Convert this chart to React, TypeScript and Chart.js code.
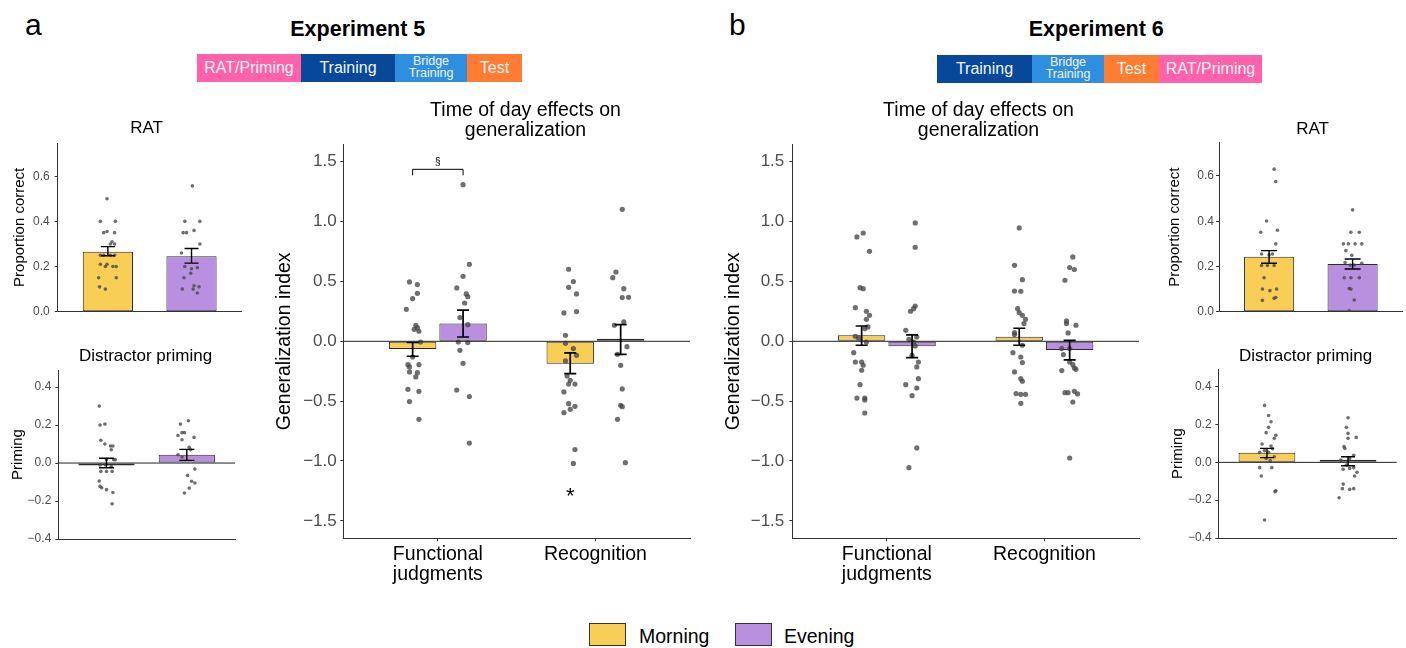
import { useEffect, useRef } from "react";
import { Chart, registerables } from "chart.js";

Chart.register(...registerables);

const FONT = '"Liberation Sans", Arial, Helvetica, sans-serif';
Chart.defaults.font.family = FONT;

const MORNING = "#F8CE56";
const EVENING = "#B98FE0";
const DOT = "rgba(70,70,70,0.78)";
const DODGE = 0.16; // half distance between the two bars of a test

// ---------- shared labels / ticks ----------
const conditions = ["Morning", "Evening"];
const testCats: (string | string[])[] = [["Functional", "judgments"], "Recognition"];
const ratTicks = [0, 0.2, 0.4, 0.6];
const primeTicks = [-0.4, -0.2, 0, 0.2, 0.4];
const genTicks = [-1.5, -1, -0.5, 0, 0.5, 1, 1.5];

// ---------- Experiment 5 ----------
// means / error bar ends, [Morning, Evening]
const rat5Mean = [0.266, 0.245];
const rat5Lo = [0.248, 0.215];
const rat5Hi = [0.288, 0.28];
// participants: [jitter, value]
const rat5MorningPts: [number, number][] = [
  [-0.01, 0.5], [-0.09, 0.4], [0.09, 0.4], [-0.05, 0.35], [-0.01, 0.355], [0.08, 0.35], [0.05, 0.31],
  [0.03, 0.3], [0.08, 0.3], [-0.09, 0.25], [-0.05, 0.25], [0.03, 0.25], [0.08, 0.25], [-0.09, 0.21],
  [-0.01, 0.21], [0.06, 0.2], [0.1, 0.2], [-0.03, 0.2], [-0.11, 0.15], [0.1, 0.15], [-0.1, 0.11], [-0.03, 0.1],
];
const rat5EveningPts: [number, number][] = [
  [0.01, 0.557], [-0.08, 0.4], [0.1, 0.4], [0.03, 0.36], [-0.1, 0.35], [-0.06, 0.35], [0.1, 0.3],
  [-0.12, 0.26], [-0.08, 0.2], [0.0, 0.19], [0.07, 0.195], [-0.01, 0.17], [-0.09, 0.15], [0.03, 0.115],
  [0.09, 0.11], [0.02, 0.1], [-0.11, 0.1], [0.07, 0.083],
];

const prime5Mean = [-0.005, 0.044];
const prime5Lo = [-0.025, 0.014];
const prime5Hi = [0.025, 0.072];
const prime5MorningPts: [number, number][] = [
  [-0.09, 0.3], [-0.08, 0.2], [-0.02, 0.205], [-0.07, 0.12], [-0.02, 0.1], [0.05, 0.09], [0.08, 0.09],
  [0.06, 0.07], [0.0, 0.018], [0.09, 0.018], [0.11, 0.018], [-0.08, -0.01], [-0.01, -0.01], [0.06, -0.018],
  [-0.07, -0.044], [0.0, -0.044], [0.07, -0.044], [-0.09, -0.095], [-0.08, -0.123], [-0.06, -0.13],
  [0.0, -0.14], [0.08, -0.155], [0.07, -0.215],
];
const prime5EveningPts: [number, number][] = [
  [0.02, 0.223], [-0.08, 0.205], [-0.06, 0.16], [-0.03, 0.16], [-0.11, 0.145], [0.09, 0.135], [-0.06, 0.123],
  [0.03, 0.083], [0.05, 0.07], [-0.11, 0.044], [-0.06, 0.032], [0.1, -0.032], [0.01, -0.065], [0.06, -0.096],
  [0.1, -0.105], [0.03, -0.132], [-0.03, -0.158],
];

// generalization index, [Functional judgments, Recognition]
const gen5MorningMean = [-0.065, -0.187];
const gen5MorningLo = [-0.125, -0.27];
const gen5MorningHi = [-0.01, -0.097];
const gen5EveningMean = [0.148, 0.014];
const gen5EveningLo = [0.036, -0.109];
const gen5EveningHi = [0.26, 0.14];
const gen5FjMorning: [number, number][] = [
  [-0.02, 0.496], [0.03, 0.474], [0.03, 0.401], [0.0, 0.357], [-0.04, 0.267], [0.02, 0.134], [0.03, 0.114],
  [0.01, 0.1], [0.04, 0.084], [0.05, -0.006], [0.0, -0.131], [-0.03, -0.195], [-0.02, -0.214], [0.04, -0.195],
  [-0.02, -0.256], [0.03, -0.262], [0.02, -0.298], [-0.03, -0.401], [0.04, -0.418], [-0.02, -0.504], [0.04, -0.652],
];
const gen5FjEvening: [number, number][] = [
  [0.0, 1.309], [0.04, 0.643], [0.0, 0.543], [-0.04, 0.446], [0.02, 0.396], [0.03, 0.373], [0.01, 0.32],
  [-0.02, 0.198], [0.03, 0.139], [-0.03, -0.006], [0.03, -0.011], [-0.02, -0.075], [0.0, -0.184],
  [-0.04, -0.407], [0.04, -0.462], [0.04, -0.85],
];
const gen5RecMorning: [number, number][] = [
  [-0.01, 0.602], [0.02, 0.499], [-0.01, 0.451], [0.04, 0.396], [-0.04, 0.237], [0.04, 0.248], [-0.03, 0.05],
  [-0.03, -0.017], [0.02, -0.061], [0.04, -0.117], [-0.03, -0.164], [-0.02, -0.29], [0.0, -0.326],
  [0.03, -0.357], [-0.01, -0.357], [-0.04, -0.423], [-0.01, -0.521], [0.03, -0.543], [0.0, -0.568],
  [-0.04, -0.596], [0.03, -0.905], [0.02, -1.02],
];
const gen5RecEvening: [number, number][] = [
  [0.01, 1.103], [-0.03, 0.579], [-0.05, 0.532], [0.02, 0.44], [0.01, 0.365], [0.05, 0.368], [-0.04, 0.134],
  [0.02, 0.162], [0.04, -0.045], [-0.02, -0.109], [0.0, -0.201], [0.01, -0.398], [0.0, -0.535], [0.01, -0.546],
  [-0.02, -0.652], [0.03, -1.014],
];
// significance marks on the Experiment 5 panel
const sigBracket = { from: 1 - DODGE, to: 1 + DODGE, y: 1.437, tip: 1.387 };
const sigNotes = [
  { x: 1, y: 1.5, text: "§", size: 10 },
  { x: 2 - DODGE, y: -1.3, text: "*", size: 22 },
];

// ---------- Experiment 6 ----------
const gen6MorningMean = [0.05, 0.039];
const gen6MorningLo = [-0.033, -0.033];
const gen6MorningHi = [0.128, 0.109];
const gen6EveningMean = [-0.042, -0.072];
const gen6EveningLo = [-0.136, -0.156];
const gen6EveningHi = [0.053, 0.008];
const gen6FjMorning: [number, number][] = [
  [0.01, 0.905], [-0.03, 0.872], [0.05, 0.752], [-0.01, 0.448], [0.01, 0.44], [-0.04, 0.281], [0.03, 0.251],
  [0.05, 0.217], [0.03, 0.184], [0.04, 0.12], [0.02, 0.106], [-0.04, 0.042], [-0.02, 0.028], [0.03, -0.006],
  [-0.05, -0.095], [-0.04, -0.173], [0.0, -0.173], [0.01, -0.2], [0.0, -0.242], [-0.01, -0.362],
  [-0.03, -0.474], [0.02, -0.474], [0.02, -0.49], [0.02, -0.599],
];
const gen6FjEvening: [number, number][] = [
  [0.02, 0.989], [0.02, 0.786], [0.02, 0.295], [0.01, 0.273], [-0.01, 0.251], [-0.04, 0.092], [0.03, 0.036],
  [-0.02, 0.017], [0.01, -0.006], [0.02, -0.039], [0.0, -0.117], [0.04, -0.173], [0.03, -0.214],
  [0.04, -0.312], [-0.04, -0.362], [0.03, -0.39], [0.0, -0.454], [0.03, -0.891], [-0.02, -1.056],
];
const gen6RecMorning: [number, number][] = [
  [0.0, 0.947], [-0.03, 0.635], [0.02, 0.515], [-0.03, 0.42], [0.01, 0.418], [-0.01, 0.273], [0.0, 0.24],
  [0.02, 0.217], [0.04, 0.184], [0.03, 0.148], [-0.03, 0.072], [-0.03, 0.056], [0.02, -0.033], [-0.04, -0.095],
  [0.01, -0.131], [0.02, -0.178], [-0.03, -0.256], [0.01, -0.312], [0.02, -0.334], [-0.02, -0.437],
  [0.01, -0.443], [0.04, -0.443], [0.01, -0.518],
];
const gen6RecEvening: [number, number][] = [
  [0.02, 0.705], [0.0, 0.616], [0.03, 0.6], [-0.03, 0.51], [-0.02, 0.17], [-0.02, 0.148], [0.04, 0.134],
  [-0.01, 0.07], [-0.05, -0.061], [0.0, -0.061], [-0.04, -0.111], [0.0, -0.173], [0.02, -0.195],
  [0.03, -0.223], [0.04, -0.234], [-0.05, -0.245], [-0.03, -0.429], [-0.01, -0.429], [0.03, -0.418],
  [0.05, -0.44], [0.02, -0.507], [0.0, -0.975],
];

const rat6Mean = [0.243, 0.211];
const rat6Lo = [0.214, 0.189];
const rat6Hi = [0.27, 0.233];
const rat6MorningPts: [number, number][] = [
  [0.06, 0.63], [0.08, 0.575], [-0.03, 0.401], [-0.1, 0.351], [0.1, 0.36], [0.08, 0.3], [-0.09, 0.255],
  [0.0, 0.251], [0.04, 0.255], [-0.09, 0.204], [-0.02, 0.204], [0.06, 0.204], [-0.06, 0.15], [-0.08, 0.1],
  [0.01, 0.093], [0.09, 0.1], [0.08, 0.063], [0.06, 0.059], [-0.08, 0.05],
];
const rat6EveningPts: [number, number][] = [
  [0.0, 0.45], [-0.02, 0.351], [0.08, 0.351], [-0.11, 0.3], [-0.05, 0.3], [0.03, 0.3], [0.11, 0.3],
  [-0.08, 0.27], [-0.01, 0.249], [-0.09, 0.217], [-0.03, 0.206], [0.02, 0.206], [0.11, 0.214],
  [-0.1, 0.15], [-0.02, 0.15], [0.08, 0.15], [-0.04, 0.102], [-0.02, 0.1], [0.02, 0.052], [-0.04, 0.004],
];

const prime6Mean = [0.051, 0.007];
const prime6Lo = [0.025, -0.018];
const prime6Hi = [0.074, 0.03];
const prime6MorningPts: [number, number][] = [
  [-0.03, 0.301], [0.02, 0.248], [0.05, 0.215], [0.02, 0.185], [-0.01, 0.157], [0.11, 0.143], [0.09, 0.127],
  [-0.06, 0.097], [0.05, 0.086], [0.07, 0.072], [-0.09, 0.053], [-0.03, 0.062], [0.02, 0.053], [-0.01, 0.021],
  [0.09, 0.03], [0.04, 0.009], [-0.09, -0.028], [0.06, -0.028], [-0.07, -0.072], [0.1, -0.155],
  [0.11, -0.15], [-0.03, -0.305],
];
const prime6EveningPts: [number, number][] = [
  [0.0, 0.236], [-0.02, 0.185], [0.0, 0.153], [0.0, 0.127], [0.1, 0.132], [-0.05, 0.083], [-0.04, 0.074],
  [0.07, 0.037], [0.02, 0.021], [-0.09, 0.012], [-0.02, -0.014], [0.02, -0.032], [0.07, -0.028],
  [-0.06, -0.037], [0.11, -0.053], [0.08, -0.072], [-0.06, -0.115], [-0.07, -0.139], [0.02, -0.143],
  [0.07, -0.139], [-0.11, -0.187],
];

// ---------- panel component ----------
type Group = {
  label: string;
  color: string;
  x: number[];
  mean: number[];
  lo: number[];
  hi: number[];
  pts: [number, number][][];
};

type PanelProps = {
  box: [number, number, number, number]; // canvas left, top, right, bottom (page px)
  plot: [number, number, number, number]; // plot area left, top, right, bottom (page px)
  title: string[];
  titleSize: number;
  titleLH: number;
  titleY: number;
  yTitle: string;
  yTitleSize: number;
  yTitleX: number;
  yMin: number;
  yMax: number;
  yTicks: number[];
  tickSize: number;
  tickGap: number;
  cats?: (string | string[])[];
  catSize?: number;
  groups: Group[];
  barRatio: number;
  dotR: number;
  capPx: number;
  errW: number;
  zeroLine: boolean;
  bracket?: { from: number; to: number; y: number; tip: number };
  notes?: { x: number; y: number; text: string; size: number }[];
};

const fmt = (v: number) => (v < -1e-9 ? "\u2212" : "") + Math.abs(v).toFixed(1);

function Panel(p: PanelProps) {
  const ref = useRef<HTMLCanvasElement>(null);
  const [cl, ct, cr, cb] = p.box;
  const [L, T, R, B] = p.plot;
  const W = cr - cl;
  const H = cb - ct;

  useEffect(() => {
    if (!ref.current) return;
    const tlh = p.titleSize * p.titleLH;
    const tPadTop = p.titleY - ct - tlh / 2;
    const tPadBottom = T - ct - tPadTop - tlh * p.title.length;
    const ylh = p.yTitleSize * 1.2;

    const datasets: any[] = [];
    p.groups.forEach((g) =>
      datasets.push({
        type: "bar",
        label: g.label,
        data: g.x.map((x, i) => ({ x, y: g.mean[i] })),
        backgroundColor: g.color,
        borderColor: "#2b2b2b",
        borderWidth: 1,
        borderSkipped: false,
        minBarLength: 2.5,
        grouped: false,
        categoryPercentage: 1,
        barPercentage: p.barRatio,
        order: 3,
      })
    );
    p.groups.forEach((g) =>
      datasets.push({
        type: "scatter",
        label: g.label + " participants",
        data: g.pts.flatMap((list, i) => list.map(([j, v]) => ({ x: g.x[i] + j, y: v }))),
        backgroundColor: DOT,
        pointRadius: p.dotR,
        pointBorderWidth: 0,
        order: 2,
      })
    );

    const marks = {
      id: "marks",
      afterDatasetsDraw(chart: any) {
        const { ctx, chartArea: a } = chart;
        const xs = chart.scales.x;
        const ys = chart.scales.y;
        ctx.save();
        if (p.zeroLine) {
          const y0 = ys.getPixelForValue(0);
          ctx.strokeStyle = "#222";
          ctx.lineWidth = 1;
          ctx.beginPath();
          ctx.moveTo(a.left, y0);
          ctx.lineTo(a.right, y0);
          ctx.stroke();
        }
        ctx.strokeStyle = "#000";
        ctx.lineWidth = p.errW;
        const c = p.capPx / 2;
        p.groups.forEach((g) =>
          g.x.forEach((xv, i) => {
            const px = xs.getPixelForValue(xv);
            const y1 = ys.getPixelForValue(g.lo[i]);
            const y2 = ys.getPixelForValue(g.hi[i]);
            ctx.beginPath();
            ctx.moveTo(px, y1);
            ctx.lineTo(px, y2);
            ctx.moveTo(px - c, y1);
            ctx.lineTo(px + c, y1);
            ctx.moveTo(px - c, y2);
            ctx.lineTo(px + c, y2);
            ctx.stroke();
          })
        );
        if (p.bracket) {
          const b = p.bracket;
          const x1 = xs.getPixelForValue(b.from);
          const x2 = xs.getPixelForValue(b.to);
          const yb = ys.getPixelForValue(b.y);
          const yt = ys.getPixelForValue(b.tip);
          ctx.lineWidth = 1;
          ctx.beginPath();
          ctx.moveTo(x1, yt);
          ctx.lineTo(x1, yb);
          ctx.lineTo(x2, yb);
          ctx.lineTo(x2, yt);
          ctx.stroke();
        }
        (p.notes || []).forEach((n) => {
          ctx.font = `${n.size}px ${FONT}`;
          ctx.fillStyle = "#000";
          ctx.textAlign = "center";
          ctx.textBaseline = "middle";
          ctx.fillText(n.text, xs.getPixelForValue(n.x), ys.getPixelForValue(n.y));
        });
        ctx.restore();
      },
    };

    const chart = new Chart(ref.current, {
      type: "bar",
      data: { datasets },
      options: {
        responsive: false,
        animation: false,
        events: [],
        layout: { padding: 0 },
        plugins: {
          legend: { display: false },
          tooltip: { enabled: false },
          title: {
            display: true,
            text: p.title,
            color: "#000",
            font: { family: FONT, size: p.titleSize, lineHeight: p.titleLH, weight: "normal" },
            padding: { top: tPadTop, bottom: tPadBottom },
          },
        },
        scales: {
          x: {
            type: "linear",
            min: 0.4,
            max: 2.6,
            bounds: "data",
            offset: false,
            grid: { display: !!p.cats, offset: false, drawOnChartArea: false, tickLength: 3, tickColor: "#333" },
            border: { display: true, color: "#333", width: 1 },
            ticks: {
              display: !!p.cats,
              autoSkip: false,
              maxRotation: 0,
              padding: 3.5,
              color: "#000",
              font: { family: FONT, size: p.catSize || 12, lineHeight: 1.03 },
              callback: (_v: any, i: number) => (p.cats ? p.cats[i] : ""),
            },
            afterBuildTicks: (s: any) => {
              s.ticks = [{ value: 1 }, { value: 2 }];
            },
            afterFit: (s: any) => {
              s.height = cb - B;
              s.paddingLeft = 0;
              s.paddingRight = 0;
            },
          },
          y: {
            type: "linear",
            position: "left",
            min: p.yMin,
            max: p.yMax,
            grid: { display: true, drawOnChartArea: false, tickLength: 3, tickColor: "#333" },
            border: { display: true, color: "#333", width: 1 },
            ticks: {
              autoSkip: false,
              padding: p.tickGap - 3,
              color: "#4D4D4D",
              font: { family: FONT, size: p.tickSize },
              callback: (v: any) => fmt(Number(v)),
            },
            afterBuildTicks: (s: any) => {
              s.ticks = p.yTicks.map((value) => ({ value }));
            },
            title: {
              display: true,
              text: p.yTitle,
              color: "#000",
              font: { family: FONT, size: p.yTitleSize, lineHeight: 1.2 },
              padding: { top: p.yTitleX - cl - ylh / 2, bottom: 0 },
            },
            afterFit: (s: any) => {
              s.width = L - cl;
              s.paddingTop = 0;
              s.paddingBottom = 0;
            },
          },
          yRight: {
            type: "linear",
            position: "right",
            display: true,
            grid: { display: false },
            border: { display: false },
            ticks: { display: false },
            afterFit: (s: any) => {
              s.width = cr - R;
              s.paddingTop = 0;
              s.paddingBottom = 0;
            },
          },
        },
      } as any,
      plugins: [marks],
    });
    return () => chart.destroy();
  }, []);

  return (
    <canvas
      ref={ref}
      width={W}
      height={H}
      style={{ position: "absolute", left: cl, top: ct, width: W, height: H }}
    />
  );
}

function smallGroups(mean: number[], lo: number[], hi: number[], mPts: [number, number][], ePts: [number, number][]): Group[] {
  return [
    { label: conditions[0], color: MORNING, x: [1], mean: [mean[0]], lo: [lo[0]], hi: [hi[0]], pts: [mPts] },
    { label: conditions[1], color: EVENING, x: [2], mean: [mean[1]], lo: [lo[1]], hi: [hi[1]], pts: [ePts] },
  ];
}

function testGroups(
  mMean: number[], mLo: number[], mHi: number[], mPts: [number, number][][],
  eMean: number[], eLo: number[], eHi: number[], ePts: [number, number][][]
): Group[] {
  return [
    { label: conditions[0], color: MORNING, x: [1 - DODGE, 2 - DODGE], mean: mMean, lo: mLo, hi: mHi, pts: mPts },
    { label: conditions[1], color: EVENING, x: [1 + DODGE, 2 + DODGE], mean: eMean, lo: eLo, hi: eHi, pts: ePts },
  ];
}

// ---------- page decorations ----------
const STEP_COLORS: Record<string, string> = {
  "RAT/Priming": "#FF62AA",
  Training: "#07489A",
  "Bridge Training": "#2E8FE0",
  Test: "#FF7D33",
};

function Txt(props: { x: number; base: number; size: number; text: string; bold?: boolean; center?: boolean }) {
  const { x, base, size, text, bold, center } = props;
  return (
    <div
      style={{
        position: "absolute",
        left: center ? x - 200 : x,
        width: center ? 400 : undefined,
        textAlign: center ? "center" : "left",
        top: base - 0.8465 * size,
        fontSize: size,
        lineHeight: `${size}px`,
        fontWeight: bold ? "bold" : "normal",
        whiteSpace: "nowrap",
      }}
    >
      {text}
    </div>
  );
}

function Timeline({ steps, edges, top }: { steps: string[]; edges: number[]; top: number }) {
  return (
    <>
      {steps.map((s, i) => (
        <div
          key={s}
          style={{
            position: "absolute",
            left: edges[i],
            top,
            width: edges[i + 1] - edges[i],
            height: 28,
            background: STEP_COLORS[s],
            color: "#F4F4F4",
            display: "flex",
            alignItems: "center",
            justifyContent: "center",
            textAlign: "center",
            fontSize: s === "Bridge Training" ? 12.5 : 16,
            lineHeight: s === "Bridge Training" ? "11.7px" : "16px",
          }}
        >
          {s === "Bridge Training" ? (
            <span>
              Bridge
              <br />
              Training
            </span>
          ) : (
            s
          )}
        </div>
      ))}
    </>
  );
}

function LegendItem({ x, label, color, textX }: { x: number; label: string; color: string; textX: number }) {
  return (
    <>
      <div
        style={{
          position: "absolute",
          left: x,
          top: 623,
          width: 37,
          height: 23,
          boxSizing: "border-box",
          border: "1px solid #333",
          background: color,
        }}
      />
      <Txt x={textX} base={643.3} size={19.5} text={label} />
    </>
  );
}

export default function App() {
  const small = { titleSize: 17, titleLH: 1.15, yTitleSize: 15, tickSize: 12, barRatio: 0.6, dotR: 1.8, errW: 1.4 };
  const big = {
    title: ["Time of day effects on", "generalization"],
    titleSize: 19.5,
    titleLH: 1.0,
    titleY: 110.7,
    yTitle: "Generalization index",
    yTitleSize: 19.5,
    yMin: -1.646,
    yMax: 1.646,
    yTicks: genTicks,
    tickSize: 17,
    cats: testCats,
    catSize: 19.5,
    barRatio: 0.94,
    dotR: 2.6,
    capPx: 12,
    errW: 1.7,
    zeroLine: true,
  };
  return (
    <div
      style={{
        position: "fixed",
        left: 0,
        top: 0,
        width: 1406,
        height: 648,
        overflow: "hidden",
        background: "#fff",
        fontFamily: FONT,
        color: "#000",
      }}
    >
      <Txt x={25} base={35} size={30} text="a" />
      <Txt x={729} base={35} size={30} text="b" />
      <Txt x={357.8} base={37.3} size={21.5} text="Experiment 5" bold center />
      <Txt x={1096.3} base={37.3} size={21.5} text="Experiment 6" bold center />
      <Timeline steps={["RAT/Priming", "Training", "Bridge Training", "Test"]} edges={[197, 301, 395, 467, 522]} top={54} />
      <Timeline steps={["Training", "Bridge Training", "Test", "RAT/Priming"]} edges={[937, 1032, 1104, 1159, 1262]} top={55} />

      <Panel
        {...small}
        box={[0, 105, 293, 320]}
        plot={[57.7, 143, 241.7, 311.7]}
        title={["RAT"]}
        titleY={128}
        yTitle="Proportion correct"
        yTitleX={20}
        yMin={0}
        yMax={0.747}
        yTicks={ratTicks}
        tickGap={8}
        groups={smallGroups(rat5Mean, rat5Lo, rat5Hi, rat5MorningPts, rat5EveningPts)}
        capPx={14}
        zeroLine={false}
      />
      <Panel
        {...small}
        box={[0, 335, 291, 546]}
        plot={[58.3, 370, 235, 539]}
        title={["Distractor priming"]}
        titleY={356}
        yTitle="Priming"
        yTitleX={17.5}
        yMin={-0.4}
        yMax={0.49}
        yTicks={primeTicks}
        tickGap={7}
        groups={smallGroups(prime5Mean, prime5Lo, prime5Hi, prime5MorningPts, prime5EveningPts)}
        barRatio={0.7}
        capPx={15}
        zeroLine={true}
      />
      <Panel
        {...big}
        box={[265, 95, 786, 595]}
        plot={[343.3, 144.3, 690, 538.3]}
        yTitleX={284.5}
        tickGap={6.6}
        groups={testGroups(
          gen5MorningMean, gen5MorningLo, gen5MorningHi, [gen5FjMorning, gen5RecMorning],
          gen5EveningMean, gen5EveningLo, gen5EveningHi, [gen5FjEvening, gen5RecEvening]
        )}
        bracket={sigBracket}
        notes={sigNotes}
      />
      <Panel
        {...big}
        box={[714, 95, 1243, 595]}
        plot={[792.3, 144.3, 1139, 538.3]}
        yTitleX={733.3}
        tickGap={8}
        groups={testGroups(
          gen6MorningMean, gen6MorningLo, gen6MorningHi, [gen6FjMorning, gen6RecMorning],
          gen6EveningMean, gen6EveningLo, gen6EveningHi, [gen6FjEvening, gen6RecEvening]
        )}
      />
      <Panel
        {...small}
        box={[1160, 105, 1465, 320]}
        plot={[1219, 142.7, 1402.7, 311.7]}
        title={["RAT"]}
        titleY={129.3}
        yTitle="Proportion correct"
        yTitleX={1175}
        yMin={0}
        yMax={0.747}
        yTicks={ratTicks}
        tickGap={5}
        groups={smallGroups(rat6Mean, rat6Lo, rat6Hi, rat6MorningPts, rat6EveningPts)}
        capPx={16}
        zeroLine={false}
      />
      <Panel
        {...small}
        box={[1160, 335, 1451, 546]}
        plot={[1218.3, 369.3, 1396.7, 538]}
        title={["Distractor priming"]}
        titleY={356}
        yTitle="Priming"
        yTitleX={1177.8}
        yMin={-0.4}
        yMax={0.492}
        yTicks={primeTicks}
        tickGap={6.7}
        groups={smallGroups(prime6Mean, prime6Lo, prime6Hi, prime6MorningPts, prime6EveningPts)}
        barRatio={0.7}
        capPx={14}
        zeroLine={true}
      />

      <LegendItem x={589} label={conditions[0]} color={MORNING} textX={639} />
      <LegendItem x={735} label={conditions[1]} color={EVENING} textX={784} />
    </div>
  );
}
